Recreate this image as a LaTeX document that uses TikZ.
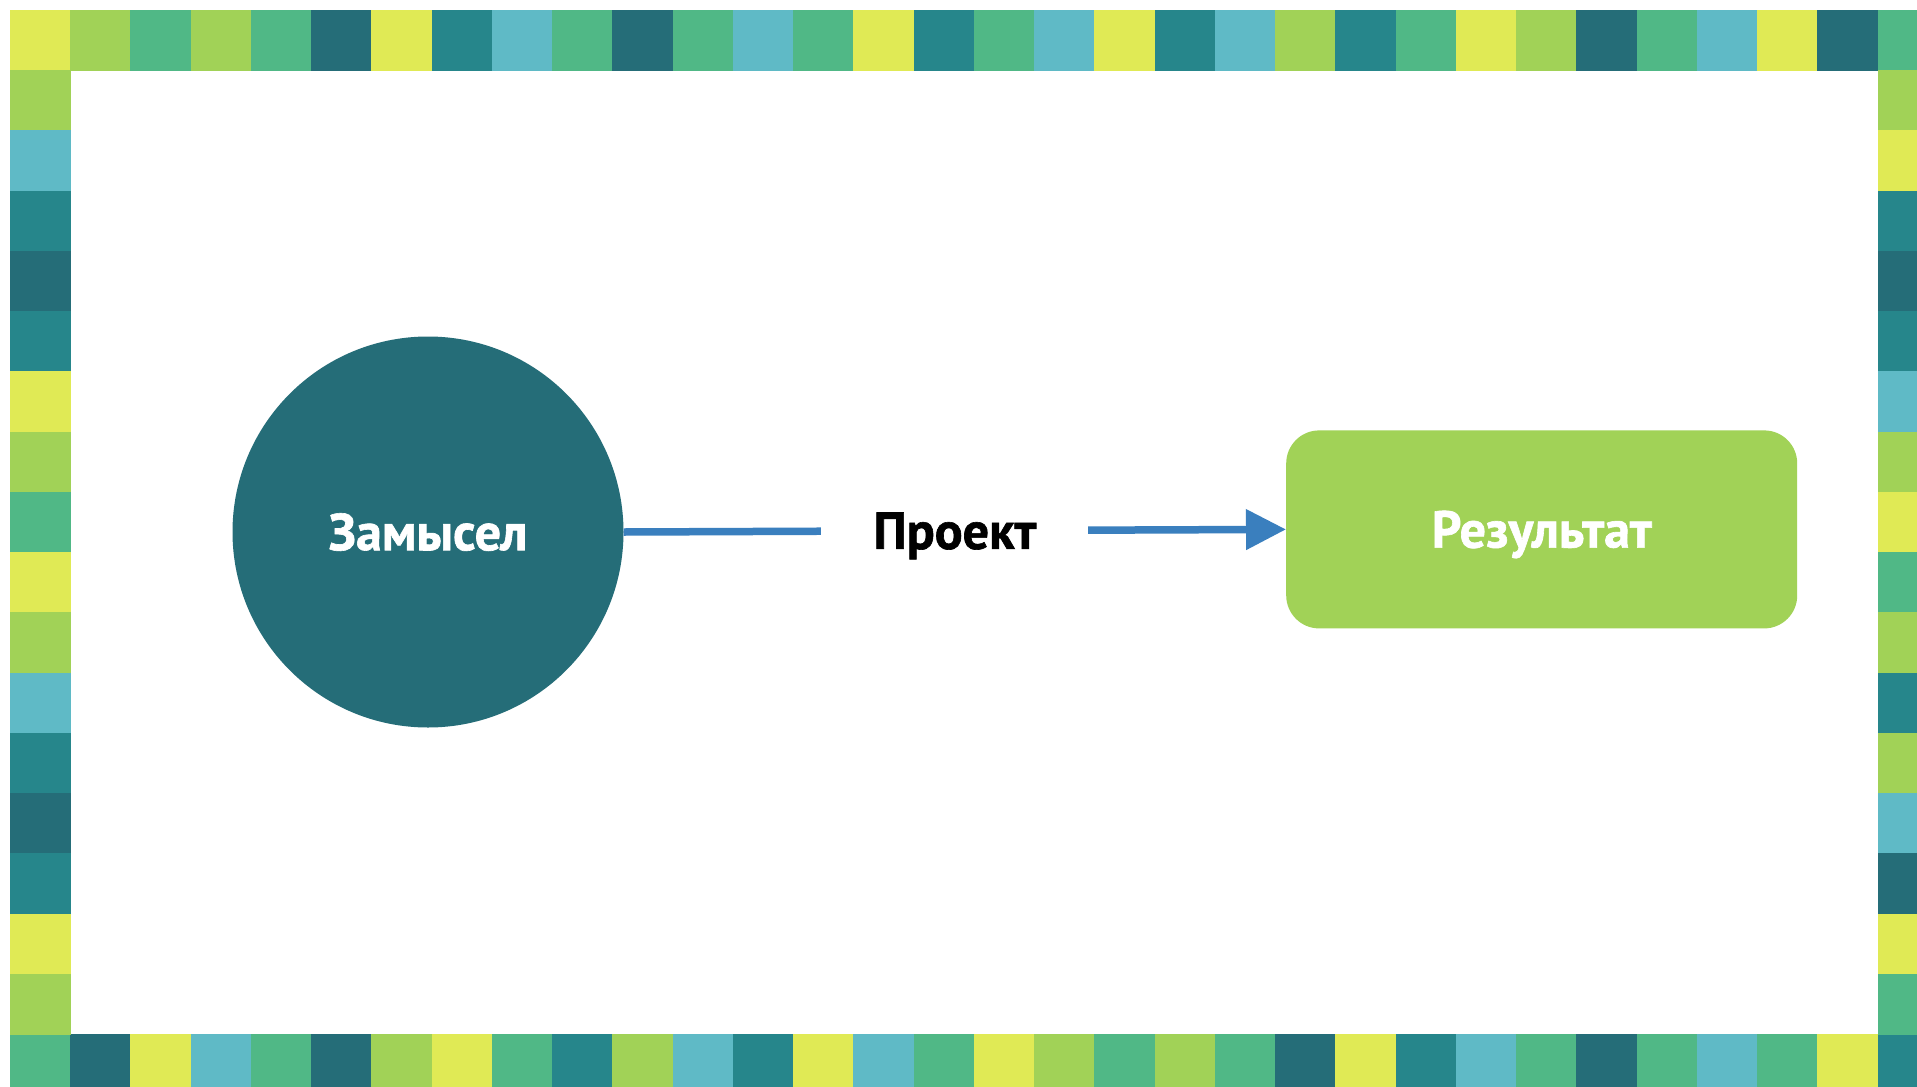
\documentclass[tikz,border=0pt]{standalone}
\usepackage{fontspec}
\setmainfont{PT Sans}
\newfontfamily\heavyfont[FakeBold=1.2]{PT Sans Bold}
\usetikzlibrary{arrows.meta}
\definecolor{cY}{HTML}{E0EA55}
\definecolor{cL}{HTML}{A1D257}
\definecolor{cG}{HTML}{50B886}
\definecolor{cD}{HTML}{256D78}
\definecolor{cT}{HTML}{26868B}
\definecolor{cB}{HTML}{5FBAC6}
\definecolor{arrowblue}{HTML}{3A7FBE}
\tikzset{
  tile/.style={fill=#1},
  label text/.style={font=\fontsize{52}{56}\heavyfont, text height=36.4pt, text depth=0pt},
  idea/.style={circle, fill=cD, minimum size=391pt, inner sep=0pt, text=white, label text},
  result/.style={rectangle, rounded corners=33pt, fill=cL, minimum width=511pt, minimum height=198pt, inner sep=0pt, text=white, label text},
  flow/.style={draw=arrowblue, line width=7.5pt, -{Triangle[length=40pt,width=39pt]}},
  gaplabel/.style={fill=white, inner xsep=52pt, inner ysep=8pt, text=black, label text}
}
\begin{document}
\begin{tikzpicture}[x=1pt,y=-1pt]
\useasboundingbox (0,0) rectangle (1917,1087);
\fill[white] (0,0) rectangle (1917,1087);
\begin{scope}
\clip (0,0) rectangle (1917,1087);
\def\s{60.25}
\def\o{9.8}
% top row
\foreach \c [count=\i from 0] in {cY,cL,cG,cL,cG,cD,cY,cT,cB,cG,cD,cG,cB,cG,cY,cT,cG,cB,cY,cT,cB,cL,cT,cG,cY,cL,cD,cG,cB,cY,cD,cG}
  \fill[tile=\c] ({\o+\i*\s},\o) rectangle +({\s+0.5},{\s+0.5});
% bottom row
\foreach \c [count=\i from 0] in {cG,cD,cY,cB,cG,cD,cL,cY,cG,cT,cL,cB,cT,cY,cB,cG,cY,cL,cG,cL,cG,cD,cY,cT,cB,cG,cD,cG,cB,cG,cY,cT}
  \fill[tile=\c] ({\o+\i*\s},{\o+17*\s}) rectangle +({\s+0.5},{\s+0.5});
% left column
\foreach \c [count=\i from 1] in {cL,cB,cT,cD,cT,cY,cL,cG,cY,cL,cB,cT,cD,cT,cY,cL}
  \fill[tile=\c] (\o,{\o+\i*\s}) rectangle +({\s+0.5},{\s+0.5});
% right column
\foreach \c [count=\i from 1] in {cL,cY,cT,cD,cT,cB,cL,cY,cG,cL,cT,cL,cB,cD,cY,cG}
  \fill[tile=\c] ({\o+31*\s},{\o+\i*\s}) rectangle +({\s+0.5},{\s+0.5});
\end{scope}

\node[idea] (zam) at (428,532) {Замысел};
\node[result] (res) at (1541.7,529.4) {Результат};
\draw[flow] (zam.east) -- node[gaplabel] (proj) {Проект} (res.west);
\end{tikzpicture}
\end{document}
